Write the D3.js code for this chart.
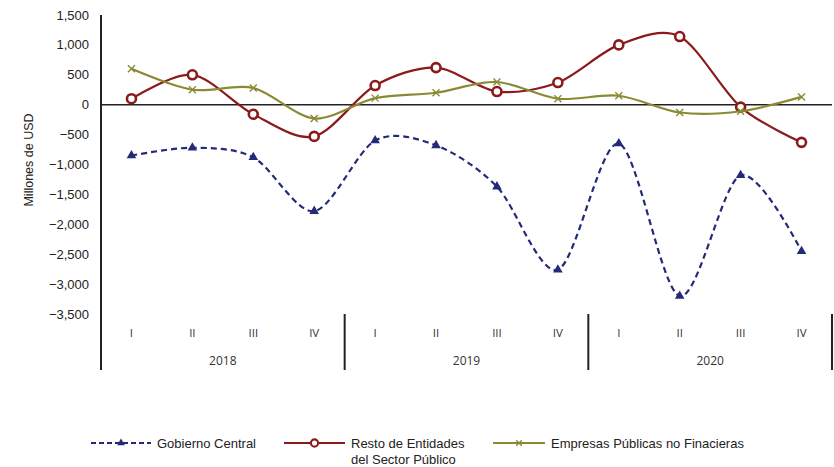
<!DOCTYPE html>
<html>
<head>
<meta charset="utf-8">
<script src="https://cdn.jsdelivr.net/npm/d3@7"></script>
<style>
  body { margin: 0; background: #fff; }
  svg { display: block; font-family: "Liberation Sans", Arial, sans-serif; }
</style>
</head>
<body>
<svg id="chart" width="834" height="467"></svg>
<script>
// data
const quarters = ["I", "II", "III", "IV", "I", "II", "III", "IV", "I", "II", "III", "IV"];
const years = ["2018", "2019", "2020"];
const gobierno = [-850, -720, -880, -1780, -600, -680, -1370, -2760, -650, -3200, -1180, -2450];
const resto = [100, 500, -160, -530, 320, 620, 220, 370, 1000, 1140, -40, -630];
const empresas = [600, 250, 280, -230, 110, 200, 380, 100, 150, -130, -110, 130];
const yTicks = [1500, 1000, 500, 0, -500, -1000, -1500, -2000, -2500, -3000, -3500];

const series = [
  { name: "Gobierno Central", values: gobierno, color: "#252a78", dash: "6,4", marker: "triangle" },
  { name: "Resto de Entidades|del Sector Público", values: resto, color: "#8b1a1c", dash: null, marker: "circle" },
  { name: "Empresas Públicas no Finacieras", values: empresas, color: "#8a8a35", dash: null, marker: "cross" }
];

const svg = d3.select("#chart");
const left = 101, right = 832;

const x = d3.scaleBand()
  .domain(d3.range(quarters.length))
  .range([left, right]);

const y = d3.scaleLinear()
  .domain([-3500, 1500])
  .range([314, 15]);

// y axis labels
svg.append("g")
  .attr("font-size", 13)
  .attr("fill", "#222")
  .attr("text-anchor", "end")
  .selectAll()
  .data(yTicks)
  .join("text")
    .attr("x", 89)
    .attr("y", d => y(d))
    .attr("dy", "0.35em")
    .text(d => d3.format(",")(d));

svg.append("text")
  .attr("transform", "translate(33,160) rotate(-90)")
  .attr("text-anchor", "middle")
  .attr("font-size", 12.5)
  .attr("fill", "#222")
  .text("Millones de USD");

// left axis line
svg.append("line")
  .attr("x1", left).attr("x2", left)
  .attr("y1", y(1500)).attr("y2", 370)
  .attr("stroke", "#222").attr("stroke-width", 2);

// zero line
svg.append("line")
  .attr("x1", left).attr("x2", right)
  .attr("y1", y(0)).attr("y2", y(0))
  .attr("stroke", "#222").attr("stroke-width", 1.6);

// category axis: year separators
const yearX = d3.range(years.length + 1).map(i => i === years.length ? right : x(i * 4));
svg.append("g")
  .selectAll()
  .data(yearX.slice(1))
  .join("line")
    .attr("x1", d => d).attr("x2", d => d)
    .attr("y1", y(-3500)).attr("y2", 370)
    .attr("stroke", "#222").attr("stroke-width", 2);

svg.append("g")
  .attr("font-family", "'Open Sans', sans-serif")
  .attr("font-size", 11.5)
  .attr("fill", "#333")
  .attr("text-anchor", "middle")
  .selectAll()
  .data(quarters)
  .join("text")
    .attr("x", (d, i) => x(i) + x.bandwidth() / 2)
    .attr("y", 337)
    .text(d => d);

svg.append("g")
  .attr("font-family", "'Open Sans', sans-serif")
  .attr("font-size", 12)
  .attr("fill", "#333")
  .attr("text-anchor", "middle")
  .selectAll()
  .data(years)
  .join("text")
    .attr("x", (d, i) => (yearX[i] + yearX[i + 1]) / 2)
    .attr("y", 365)
    .text(d => d);

// markers
const drawMarker = (g, s, cx, cy, k = 1) => {
  if (s.marker === "triangle") {
    g.append("path")
      .attr("d", d3.symbol(d3.symbolTriangle, 40 * k * k)())
      .attr("transform", `translate(${cx},${cy})`)
      .attr("fill", s.color);
  } else if (s.marker === "circle") {
    g.append("circle")
      .attr("cx", cx).attr("cy", cy).attr("r", 4.5 * k)
      .attr("fill", "#fff")
      .attr("stroke", s.color).attr("stroke-width", 2.6 * k);
  } else {
    const r = 3.5 * k;
    g.append("path")
      .attr("d", `M${-r},${-r}L${r},${r}M${-r},${r}L${r},${-r}`)
      .attr("transform", `translate(${cx},${cy})`)
      .attr("stroke", s.color).attr("stroke-width", 1.4);
  }
};

const line = d3.line()
  .x((d, i) => x(i) + x.bandwidth() / 2)
  .y(d => y(d))
  .curve(d3.curveCardinal.tension(0.1));

series.forEach(s => {
  const g = svg.append("g");
  g.append("path")
    .attr("d", line(s.values))
    .attr("fill", "none")
    .attr("stroke", s.color)
    .attr("stroke-width", 2.2)
    .attr("stroke-dasharray", s.dash);
  s.values.forEach((v, i) => drawMarker(g, s, x(i) + x.bandwidth() / 2, y(v)));
});

// legend
const legendX = [91, 284, 493];
const legendW = [60, 61, 52];
const legendY = 443;
const legend = svg.append("g");
series.forEach((s, i) => {
  const lx = legendX[i], w = legendW[i];
  const g = legend.append("g");
  g.append("line")
    .attr("x1", lx).attr("x2", lx + w)
    .attr("y1", legendY).attr("y2", legendY)
    .attr("stroke", s.color).attr("stroke-width", 2.2)
    .attr("stroke-dasharray", s.dash ? "5,3" : null);
  drawMarker(g, s, lx + w / 2, legendY, 0.8);
  s.name.split("|").forEach((t, j) => {
    g.append("text")
      .attr("x", lx + w + 6)
      .attr("y", legendY + j * 16)
      .attr("dy", "0.35em")
      .attr("font-size", 13)
      .attr("fill", "#222")
      .text(t);
  });
});
</script>
</body>
</html>
